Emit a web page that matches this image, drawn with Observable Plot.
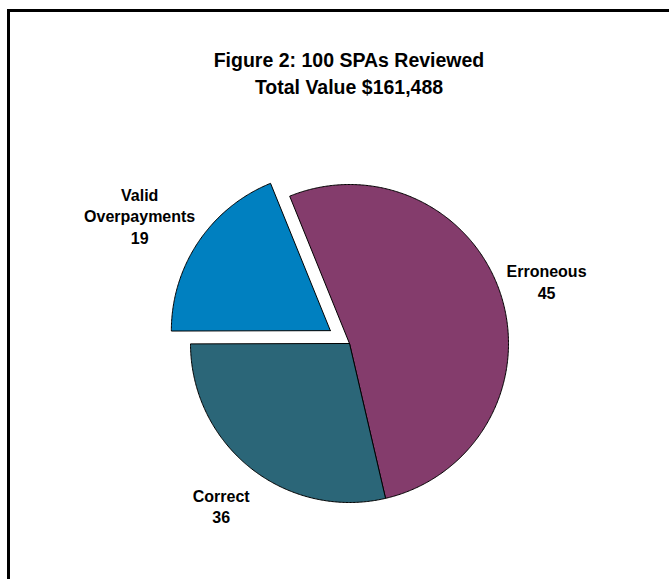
<!DOCTYPE html>
<html><head><meta charset="utf-8">
<script src="https://cdn.jsdelivr.net/npm/d3@7"></script>
<script src="https://cdn.jsdelivr.net/npm/@observablehq/plot@0.6"></script>
<style>
body{margin:0;background:#fff;}
#wrap{position:relative;width:669px;height:579px;overflow:hidden;font-family:"Liberation Sans",Arial,sans-serif;background:#fff;}
#chart{position:absolute;left:0;top:0;}
#frame{position:absolute;left:7px;top:9px;width:720px;height:640px;border:3px solid #000;box-sizing:border-box;pointer-events:none;}
#title{position:absolute;left:0;top:47px;width:698px;text-align:center;font-weight:bold;font-size:19.5px;line-height:27px;color:#000;}
</style></head><body>
<div id="wrap"><div id="chart"></div><div id="title">Figure 2: 100 SPAs Reviewed<br>Total Value $161,488</div><div id="frame"></div></div>
<script>
// Data
const categories = ["Erroneous", "Correct", "Valid Overpayments"];
const labelNames = ["Erroneous", "Correct", "Valid\nOverpayments"];
const counts = [45, 36, 19];                 // SPAs reviewed (labels)
const valueShares = [52.5, 28.6, 18.9];
const explodedCategories = ["Valid Overpayments"];

// Styles / layout
const colors = ["#843C6C", "#2B6678", "#0080C0"];
const startDeg = -22.1;
const explode = 0.145;

const start = startDeg * Math.PI / 180;
const arcs = d3.pie().sort(null).startAngle(start).endAngle(start + 2 * Math.PI)(valueShares);

const points = [];
const labels = [];
arcs.forEach((a, i) => {
  const cat = categories[i];
  const off = explodedCategories.includes(cat) ? explode : 0;
  const mid = (a.startAngle + a.endAngle) / 2;
  const ox = off * Math.sin(mid), oy = off * Math.cos(mid);
  points.push({cat, x: ox, y: oy});
  const n = Math.max(2, Math.ceil((a.endAngle - a.startAngle) / (Math.PI / 360)));
  for (let k = 0; k <= n; k++) {
    const t = a.startAngle + (a.endAngle - a.startAngle) * k / n;
    points.push({cat, x: ox + Math.sin(t), y: oy + Math.cos(t)});
  }
  points.push({cat, x: ox, y: oy});
  const text = labelNames[i] + "\n" + counts[i];
  const lines = text.split("\n").length;
  const r = 1.3 + off;
  const sx = Math.sign(Math.sin(mid));
  labels.push({text, x: r * Math.sin(mid) + sx * 0.12 * (lines - 2), y: r * Math.cos(mid)});
});

const chart = Plot.plot({
  width: 669,
  height: 579,
  marginLeft: 190,
  marginRight: 161,
  marginTop: 184,
  marginBottom: 77,
  x: {domain: [-1, 1], axis: null},
  y: {domain: [-1, 1], axis: null},
  color: {domain: categories, range: colors},
  style: {background: "transparent", overflow: "visible"},
  marks: [
    Plot.line(points, {x: "x", y: "y", z: "cat", fill: "cat", stroke: "#000", strokeWidth: 1, curve: "linear", strokeLinejoin: "miter"}),
    Plot.text(labels, {x: "x", y: "y", text: "text", fontSize: 16, fontWeight: "bold", fill: "#000",
      fontFamily: "'Liberation Sans', Arial, sans-serif", lineAnchor: "middle", lineHeight: 1.35, textAnchor: "middle"})
  ]
});
document.getElementById("chart").appendChild(chart);
</script>
</body></html>
